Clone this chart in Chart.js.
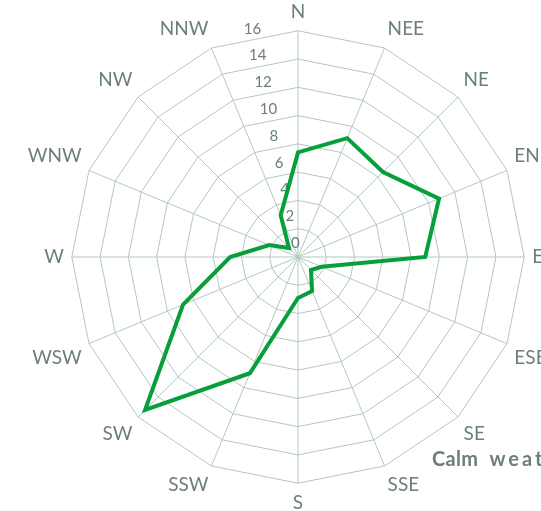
<!DOCTYPE html>
<html>
<head>
<meta charset="utf-8">
<script src="https://cdn.jsdelivr.net/npm/chart.js@4"></script>
<style>
  html, body { margin: 0; padding: 0; background: #fff; overflow: hidden; }
  #wrap { position: absolute; left: 0; top: 0; width: 597px; height: 514px; }
  #calm { position: absolute; left: 432px; top: 448px; font: bold 20px/20px Lato, sans-serif; letter-spacing: 0.3px; word-spacing: 6px; color: #6b7f78; white-space: nowrap; }
  #calm span { letter-spacing: 3px; }
</style>
</head>
<body>
<div id="wrap"><canvas id="rosa" width="597" height="514"></canvas></div>
<div id="calm">Calm <span>weather</span></div>
<script>
/* directions and frequencies */
var direcoes = ['N', 'NEE', 'NE', 'ENE', 'E', 'ESE', 'SE', 'SSE', 'S', 'SSW', 'SW', 'WSW', 'W', 'WNW', 'NW', 'NNW'];
var frequencias = [7.4, 9.1, 8.5, 10.8, 9.0, 1.8, 1.3, 2.6, 2.9, 8.9, 15.3, 8.8, 4.8, 2.2, 0.9, 3.2];
var escala = [0, 2, 4, 6, 8, 10, 12, 14, 16];

var corTexto = '#6b7f78';
var corGrade = '#b3c8c0';

/* tick numbers run along a slanted line left of north */
var rotulosEscala = {
  id: 'rotulosEscala',
  beforeDatasetsDraw(chart) {
    var s = chart.scales.r;
    var ctx = chart.ctx;
    var ang = -11.3 * Math.PI / 180;
    ctx.save();
    ctx.font = '15px Lato, sans-serif';
    ctx.fillStyle = corTexto;
    ctx.textAlign = 'center';
    ctx.textBaseline = 'middle';
    escala.forEach(function (v) {
      var d = s.getDistanceFromCenterForValue(v) * 0.967 + 14;
      ctx.fillText(String(v), s.xCenter + d * Math.sin(ang), s.yCenter - d * Math.cos(ang));
    });
    ctx.restore();
  }
};

var ctx = document.getElementById('rosa').getContext('2d');
var grafico = new Chart(ctx, {
  type: 'radar',
  data: {
    labels: direcoes,
    datasets: [{
      data: frequencias,
      borderColor: '#079f3c',
      borderWidth: 4,
      borderJoinStyle: 'miter',
      fill: false,
      pointRadius: 0,
      pointHoverRadius: 0
    }]
  },
  options: {
    responsive: false,
    animation: false,
    devicePixelRatio: 1,
    plugins: { legend: { display: false }, tooltip: { enabled: false } },
    scales: {
      r: {
        min: 0,
        max: 16,
        ticks: { display: false, stepSize: 2 },
        grid: { color: corGrade, lineWidth: 1, circular: false },
        angleLines: { color: corGrade, lineWidth: 1 },
        pointLabels: {
          color: corTexto,
          padding: 8,
          font: { family: 'Lato', size: 19 }
        }
      }
    }
  },
  plugins: [rotulosEscala]
});
</script>
</body>
</html>
